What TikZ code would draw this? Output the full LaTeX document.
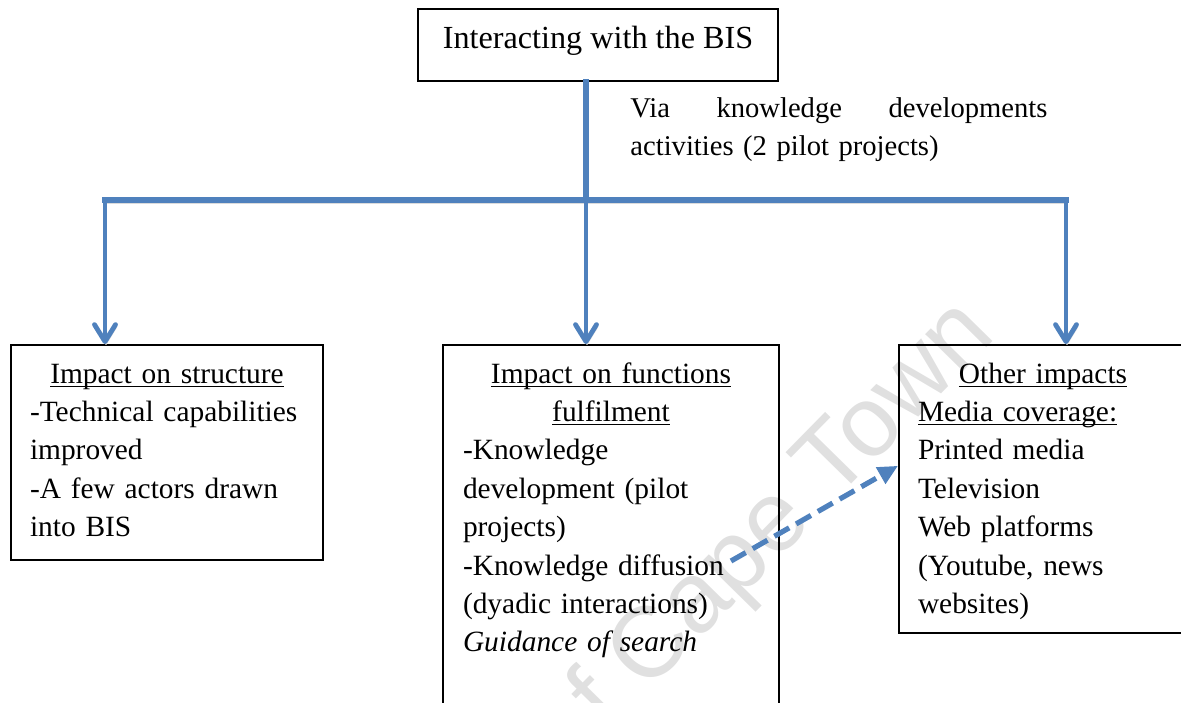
\documentclass[tikz,border=0pt]{standalone}
\usepackage{fontspec}
\setmainfont{Liberation Serif}
\newfontfamily\wmfont{Liberation Sans}
\usepackage{tikz}
\usetikzlibrary{arrows.meta,calc}
\definecolor{flowblue}{RGB}{79,129,189}
\newcommand{\boxfont}{\fontsize{14.7}{19.2}\selectfont}
\newcommand{\bisfont}{\fontsize{16.1}{19}\selectfont}
\newcommand{\viafont}{\fontsize{14.3}{19}\selectfont}
\newcommand{\Ul}[1]{\leavevmode\setbox0\hbox{#1}\rlap{\rule[-2pt]{\wd0}{0.75pt}}\box0}
\newcommand{\spread}{\hskip 0pt plus 1filll\relax}

\begin{document}
\begin{tikzpicture}[x=0.5pt,y=-0.5pt,
  box/.style={draw,line width=1pt,anchor=north west,inner xsep=9.5pt,inner ysep=0pt,text height=19pt,align=left,font=\boxfont},
  flow/.style={flowblue,line width=2.75pt,line cap=rect,
    preaction={draw=black!14,transform canvas={shift={(0.5pt,-1.5pt)}}}},
  down/.style={flowblue,line width=2.4pt,-{Straight Barb[length=8.5pt,width=10.5pt,round]},
    preaction={draw=black!14,transform canvas={shift={(0.5pt,-1.5pt)}}}},
  link/.style={flowblue,line width=2.6pt,dash pattern=on 8.5pt off 4pt,-{Triangle[length=10pt,width=9pt]}}]
\useasboundingbox (0,0) rectangle (1181,702);
\clip (0,0) rectangle (1181,702);
% watermark
\node[text=black!12,font=\wmfont\fontsize{50}{50}\selectfont,rotate=45.5,anchor=base east,inner sep=0pt] (uct) at (998,336) {University of Cape Town};
% boxes
\node[box,minimum width=180pt,inner xsep=0pt,text height=19.5pt,text depth=16.5pt,font=\bisfont] (bis) at (417,8) {Interacting with the BIS};
\node[anchor=base west,inner sep=0pt,text width=208.5pt,align=left,font=\viafont] (via) at (630,117) {Via\spread knowledge\spread developments\\ activities (2 pilot projects)};
\node[box,text width=137pt,text depth=88.5pt] (structure) at (10,344) {\makebox[\linewidth]{\Ul{Impact on structure}}\\ -Technical capabilities\\ improved\\ -A few actors drawn\\ into BIS};
\node[box,inner xsep=10pt,text width=148pt,text depth=190pt] (functions) at (442,344) {\makebox[\linewidth]{\Ul{Impact on functions}}\\ \makebox[\linewidth]{\Ul{fulfilment}}\\ -Knowledge\\ development (pilot\\ projects)\\ -Knowledge diffusion\\ (dyadic interactions)\\ \textit{Guidance of search}};
\node[box,text width=125pt,text depth=125pt] (other) at (898,344) {\makebox[\linewidth]{\Ul{Other impacts}}\\ \Ul{Media coverage:}\\ Printed media\\ Television\\ Web platforms\\ (Youtube, news\\ websites)};
% connectors
\coordinate (split) at (586,200);
\coordinate (bl) at (105,200);
\coordinate (br) at (1066,200);
\coordinate (diffusion) at (731,561);
\draw[flow] (split |- bis.south) -- (split);
\draw[flow] (bl) -- (br);
\draw[down] (bl) -- (bl |- structure.north);
\draw[down] (split) -- (split |- functions.north);
\draw[down] (br) -- (br |- other.north);
\draw[link] (diffusion) -- ($(other.north west)!0.42!(other.south west)$);
\end{tikzpicture}
\end{document}
